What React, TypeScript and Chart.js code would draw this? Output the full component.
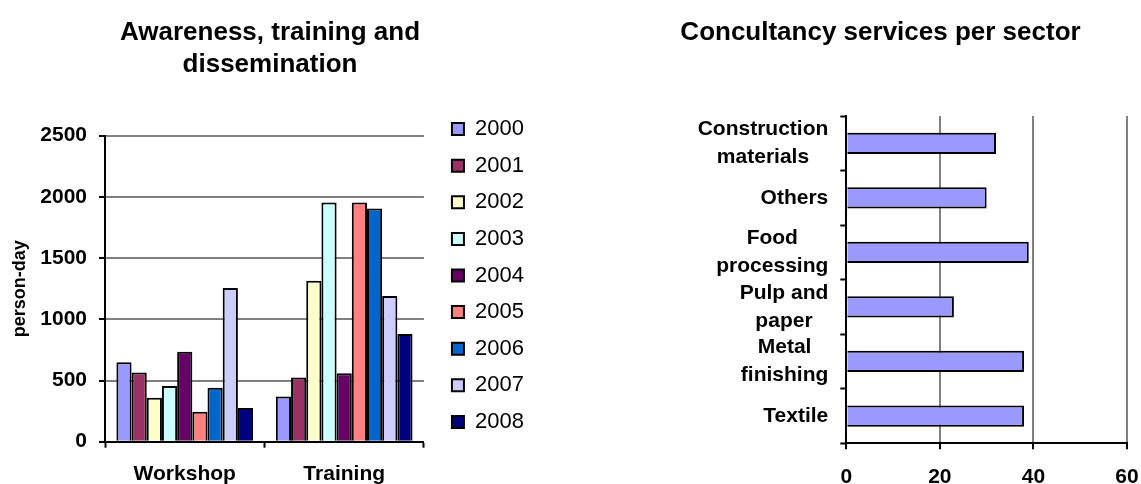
import React, { useEffect, useRef } from 'react';
import { Chart, registerables } from 'chart.js';

Chart.register(...registerables);

// ---------- Data: left chart ----------
const activityCategories = ['Workshop', 'Training'];
const years = ['2000', '2001', '2002', '2003', '2004', '2005', '2006', '2007', '2008'];
const workshopValues = [650, 565, 360, 455, 735, 245, 440, 1255, 275];
const trainingValues = [370, 525, 1315, 1955, 560, 1955, 1905, 1190, 880];
const yearColors = ['#9999FF', '#993366', '#FFFFCC', '#CCFFFF', '#660066', '#FF8080', '#0066CC', '#CCCCFF', '#000080'];
const personDayTicks = [0, 500, 1000, 1500, 2000, 2500];

// ---------- Data: right chart ----------
const sectors = [
  ['Construction', 'materials'],
  ['Others'],
  ['Food', 'processing'],
  ['Pulp and', 'paper'],
  ['Metal', 'finishing'],
  ['Textile'],
];
const sectorValues = [32, 30, 39, 23, 38, 38];
const sectorTicks = [0, 20, 40, 60];

const FONT = 'Arial, "Liberation Sans", sans-serif';

const centeredCategoryLabels = {
  id: 'centeredCategoryLabels',
  afterDraw(chart: any) {
    const scale = chart.scales.y;
    const ctx = chart.ctx;
    ctx.save();
    ctx.font = `bold 21px ${FONT}`;
    ctx.fillStyle = '#000';
    ctx.textBaseline = 'middle';
    ctx.textAlign = 'center';
    const lineH = 28;
    const labels = chart.data.labels || [];
    labels.forEach((lab: any, i: number) => {
      const lines: string[] = Array.isArray(lab) ? lab : [lab];
      const widest = Math.max(...lines.map((l) => ctx.measureText(l).width));
      const cx = scale.right - 6 - 12 - widest / 2;
      const cy = scale.getPixelForTick(i);
      lines.forEach((l, j) => {
        ctx.fillText(l, cx, cy + (j - (lines.length - 1) / 2) * lineH);
      });
    });
    ctx.restore();
  },
};

// keeps the legend text from being clipped by the legend's own box
const unclipLegend = {
  id: 'unclipLegend',
  beforeDraw(chart: any) {
    if (chart.legend) {
      chart.legend.right = chart.width;
      chart.legend.width = chart.legend.right - chart.legend.left;
    }
  },
};

export default function App() {
  const leftRef = useRef<HTMLCanvasElement>(null);
  const rightRef = useRef<HTMLCanvasElement>(null);

  useEffect(() => {
    Chart.defaults.color = '#000';
    Chart.defaults.font.family = FONT;

    const left = new Chart(leftRef.current as HTMLCanvasElement, {
      type: 'bar',
      data: {
        labels: activityCategories,
        datasets: years.map((y, i) => ({
          label: y,
          data: [workshopValues[i], trainingValues[i]],
          backgroundColor: yearColors[i],
          borderColor: '#000',
          borderWidth: 2,
          barPercentage: 1,
          categoryPercentage: 9 / 10.5,
        })),
      },
      options: {
        responsive: false,
        animation: false,
        events: [],
        layout: { padding: { left: 19, right: 19, top: 0, bottom: 0 } },
        plugins: {
          tooltip: { enabled: false },
          title: {
            display: true,
            text: ['Awareness, training and', 'dissemination'],
            font: { size: 26, weight: 'bold', lineHeight: 1.25 },
            color: '#000',
            padding: { top: 16.5, bottom: 54.2 },
          },
          legend: {
            position: 'right',
            align: 'start',
            labels: {
              boxWidth: 12,
              boxHeight: 12,
              padding: 14.6,
              font: { size: 22 },
              color: '#000',
            },
            title: {
              display: true,
              text: ' ',
              font: { size: 10, lineHeight: 1 },
              padding: { top: 93.5, bottom: 0 },
            },
          },
        },
        scales: {
          x: {
            type: 'category',
            grid: { drawOnChartArea: false, drawTicks: true, tickLength: 6, tickColor: '#000', tickWidth: 2, offset: true },
            border: { color: '#000', width: 2 },
            ticks: { font: { size: 21, weight: 'bold' }, padding: 13.5, color: '#000' },
            afterFit: (s: any) => {
              s.height = 42.3;
              s.paddingLeft = 0;
              s.paddingRight = 0;
            },
          },
          y: {
            type: 'linear',
            min: 0,
            max: 2500,
            afterBuildTicks: (s: any) => {
              s.ticks = personDayTicks.map((v) => ({ value: v }));
            },
            grid: { color: '#808080', lineWidth: 2, tickColor: '#000', tickLength: 6, tickWidth: 2 },
            border: { color: '#000', width: 2 },
            ticks: {
              font: { size: 21, weight: 'bold' },
              padding: 12,
              color: '#000',
              callback: (v: any) => String(v),
            },
            title: {
              display: true,
              text: 'person-day',
              font: { size: 18, weight: 'bold' },
              color: '#000',
              padding: { top: -10, bottom: 0 },
            },
            afterFit: (s: any) => {
              s.width = 86;
              s.paddingTop = 0;
              s.paddingBottom = 0;
            },
          },
          gap: {
            type: 'linear',
            position: 'right',
            display: true,
            grid: { display: false },
            border: { display: false },
            ticks: { display: false },
            afterFit: (s: any) => {
              s.width = 13.4;
            },
          },
        },
      } as any,
      plugins: [unclipLegend],
    });

    const right = new Chart(rightRef.current as HTMLCanvasElement, {
      type: 'bar',
      data: {
        labels: sectors,
        datasets: [
          {
            label: 'Consultancy services',
            data: sectorValues,
            backgroundColor: '#9999FF',
            borderColor: '#000',
            borderWidth: 2,
            barPercentage: 0.39,
            categoryPercentage: 1,
          },
        ],
      },
      options: {
        indexAxis: 'y',
        responsive: false,
        animation: false,
        events: [],
        layout: { padding: { left: 0, right: 14, top: 0, bottom: 0 } },
        plugins: {
          tooltip: { enabled: false },
          legend: { display: false },
          title: {
            display: true,
            text: 'Concultancy services per sector',
            font: { size: 26, weight: 'bold', lineHeight: 1.25 },
            color: '#000',
            padding: { top: 17, bottom: 66.5 },
          },
        },
        scales: {
          x: {
            type: 'linear',
            position: 'bottom',
            min: 0,
            max: 60,
            afterBuildTicks: (s: any) => {
              s.ticks = sectorTicks.map((v) => ({ value: v }));
            },
            grid: { color: '#808080', lineWidth: 2, tickColor: '#000', tickLength: 6, tickWidth: 2 },
            border: { color: '#000', width: 2 },
            ticks: { font: { size: 21, weight: 'bold' }, padding: 15, color: '#000' },
            afterFit: (s: any) => {
              s.height = 40.7;
              s.paddingLeft = 0;
              s.paddingRight = 0;
            },
          },
          y: {
            type: 'category',
            grid: { drawOnChartArea: false, drawTicks: true, tickLength: 6, tickColor: '#000', tickWidth: 2, offset: true },
            border: { color: '#000', width: 2 },
            ticks: { display: false },
            afterFit: (s: any) => {
              s.width = 212.3;
              s.paddingTop = 0;
              s.paddingBottom = 0;
            },
          },
        },
      } as any,
      plugins: [centeredCategoryLabels],
    });

    return () => {
      left.destroy();
      right.destroy();
    };
  }, []);

  return (
    <div style={{ position: 'absolute', left: 0, top: 0, width: 1141, height: 484, background: '#fff', overflow: 'hidden' }}>
      <canvas ref={leftRef} width={540} height={484} style={{ position: 'absolute', left: 0, top: 0 }} />
      <canvas ref={rightRef} width={507} height={484} style={{ position: 'absolute', left: 634, top: 0 }} />
    </div>
  );
}
